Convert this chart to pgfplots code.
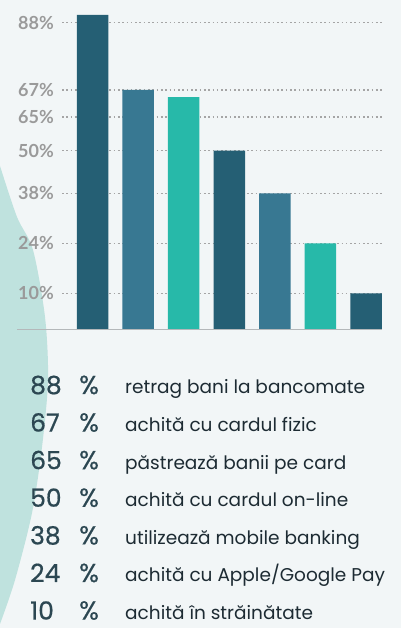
\documentclass[border=0pt]{standalone}
\usepackage{pgfplots}
\pgfplotsset{compat=1.18}
\usepackage{fontspec}
\setmainfont{Poppins}
\newfontfamily\tickfam{Lato}
\newfontfamily\numfam[FakeBold=0.6]{Poppins}
\definecolor{bg}{HTML}{F2F6F7}
\definecolor{blob}{HTML}{BFE2DE}
\definecolor{bdark}{HTML}{255F74}
\definecolor{bmid}{HTML}{387892}
\definecolor{bteal}{HTML}{27B9A9}
\definecolor{ticklab}{HTML}{9A9A9A}
\definecolor{gridc}{HTML}{A5A5A5}
\definecolor{basec}{HTML}{B4B8BA}
\definecolor{numc}{HTML}{2C4752}
\definecolor{txtc}{HTML}{1D2B33}
\newcommand{\numfont}{\numfam\fontsize{25}{25}\selectfont}
\newcommand{\pctfont}{\numfam\fontsize{26}{26}\selectfont}
\newcommand{\txtfont}{\fontsize{18.5}{18.5}\selectfont}
\newcommand{\tl}[1]{\hbox{\tickfam\bfseries\fontsize{18}{18}\selectfont #1}}
\begin{document}
\begin{tikzpicture}
\fill[bg] (0pt,0pt) rectangle (401pt,628pt);
\useasboundingbox (0pt,0pt) rectangle (401pt,628pt);
\fill[blob] plot[smooth] coordinates {(0pt,462pt) (17pt,411pt) (33pt,378pt) (45pt,311pt) (48pt,248pt) (42pt,181pt) (32pt,115pt) (15pt,48pt) (0pt,4pt)} -- cycle;
\begin{axis}[
  at={(62pt,299pt)}, anchor=south west,
  scale only axis, width=320pt, height=329pt,
  xmin=-0.669, xmax=6.35, ymin=0, ymax=92.2,
  axis line style={draw=none},
  major tick length=0pt,
  xtick=\empty,
  ytick={10,24,38,50,59.4,67,85.8},
  yticklabels={\tl{10\%},\tl{24\%},\tl{38\%},\tl{50\%},\tl{65\%},\tl{67\%},\tl{88\%}},
  yticklabel style={text=ticklab, inner sep=0pt, anchor=east, xshift=-8pt},
  ymajorgrids,
  grid style={gridc, line width=1.2pt, dash pattern=on 1.6pt off 2.7pt},
  ybar, bar width=31.5pt,
  every axis plot/.append style={bar shift=0pt, draw=none},
]
\addplot[fill=bdark] coordinates {(0,88) (3,50) (6,10)};
\addplot[fill=bmid] coordinates {(1,67) (4,38)};
\addplot[fill=bteal] coordinates {(2,65) (5,24)};
\end{axis}
\draw[basec, line width=0.9pt] (17pt,299pt) -- (382pt,299pt);
% list
\foreach \n/\y in {88/234, 67/196.4, 65/158.8, 50/121.2, 38/83.6, 24/46, 10/8.4}{
  \node[anchor=base west, inner sep=0pt, text=numc, font=\numfont] at (30pt,\y pt) {\n};
  \node[anchor=base west, inner sep=0pt, text=numc, font=\pctfont] at (79pt,\y pt) {\%};
}
\node[anchor=base west, inner sep=0pt, text=txtc, font=\txtfont] at (125pt,234pt) {retrag bani la bancomate};
\node[anchor=base west, inner sep=0pt, text=txtc, font=\txtfont] at (125pt,196.4pt) {achită cu cardul fizic};
\node[anchor=base west, inner sep=0pt, text=txtc, font=\txtfont] at (125pt,158.8pt) {păstrează banii pe card};
\node[anchor=base west, inner sep=0pt, text=txtc, font=\txtfont] at (125pt,121.2pt) {achită cu cardul on-line};
\node[anchor=base west, inner sep=0pt, text=txtc, font=\txtfont] at (125pt,83.6pt) {utilizează mobile banking};
\node[anchor=base west, inner sep=0pt, text=txtc, font=\txtfont] at (125pt,46pt) {achită cu Apple/Google Pay};
\node[anchor=base west, inner sep=0pt, text=txtc, font=\txtfont] at (125pt,8.4pt) {achită în străinătate};
\end{tikzpicture}
\end{document}
